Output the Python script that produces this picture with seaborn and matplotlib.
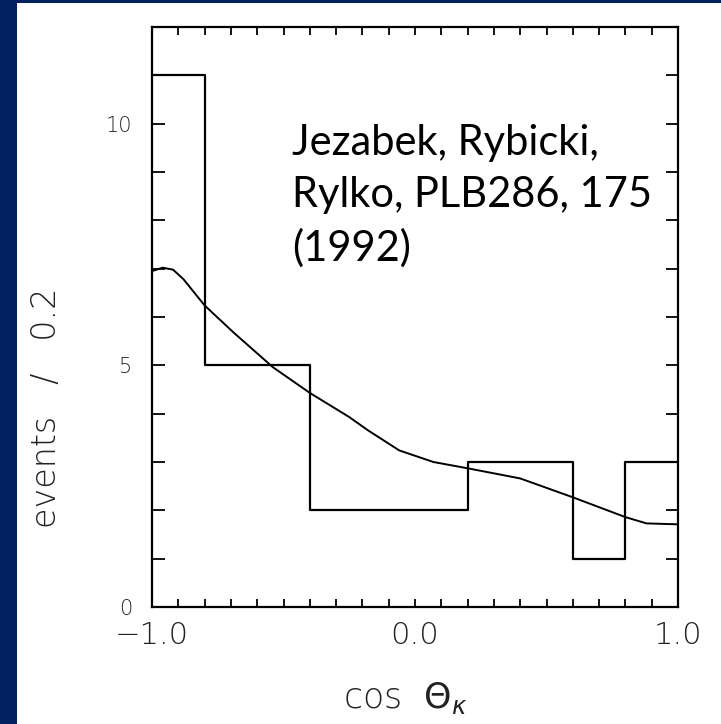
import numpy as np
import pandas as pd
import matplotlib
matplotlib.use("Agg")
import matplotlib.pyplot as plt
import seaborn as sns
from matplotlib.patches import Rectangle
from matplotlib.ticker import MultipleLocator, FixedLocator

# ---- data ----
bin_edges = [-1.0, -0.8, -0.6, -0.4, -0.2, 0.0, 0.2, 0.4, 0.6, 0.8, 1.0]
bin_lefts = [-1.0, -0.8, -0.6, -0.4, -0.2, 0.0, 0.2, 0.4, 0.6, 0.8]
counts = [11, 5, 5, 2, 2, 2, 3, 3, 1, 3]

curve_x = [-1.0, -0.96, -0.92, -0.88, -0.8, -0.69, -0.54, -0.4, -0.25, -0.18,
           -0.06, 0.07, 0.2, 0.4, 0.6, 0.8, 0.88, 1.0]
curve_y = [6.95, 7.02, 6.98, 6.78, 6.24, 5.68, 4.96, 4.43, 3.93, 3.66,
           3.24, 3.0, 2.87, 2.66, 2.27, 1.86, 1.73, 1.71]

x_tick_labels = ["\u22121.0", "0.0", "1.0"]
y_tick_labels = ["0", "5", "10"]
annotation = "Jezabek, Rybicki,\nRylko, PLB286, 175\n(1992)"

sns.set_theme(style="white")
plt.rcParams["font.family"] = ["DejaVu Sans"]

W, H = 721, 724
fig = plt.figure(figsize=(W / 100, H / 100), dpi=100)
fig.patch.set_facecolor("white")

# dark blue slide frame
blue = "#002060"
fig.patches.append(Rectangle((0, 0), 17 / W, 1, transform=fig.transFigure,
                             facecolor=blue, edgecolor="none", zorder=0))
fig.patches.append(Rectangle((0, 1 - 3 / H), 1, 3 / H, transform=fig.transFigure,
                             facecolor=blue, edgecolor="none", zorder=0))

ax = fig.add_axes([152 / W, 1 - 607 / H, (678 - 152) / W, (607 - 27) / H])

df_hist = pd.DataFrame({"x": bin_lefts, "w": counts})
sns.histplot(data=df_hist, x="x", weights="w", bins=bin_edges, element="step",
             fill=False, color="black", linewidth=1.6, ax=ax)

df_curve = pd.DataFrame({"x": curve_x, "y": curve_y})
sns.lineplot(data=df_curve, x="x", y="y", color="black", linewidth=1.4, ax=ax)

ax.set_xlim(-1.0, 1.0)
ax.set_ylim(0, 12)

ax.xaxis.set_major_locator(FixedLocator([-1.0, 0.0, 1.0]))
ax.set_xticklabels(x_tick_labels)
ax.xaxis.set_minor_locator(MultipleLocator(0.1))
ax.yaxis.set_major_locator(FixedLocator([0, 5, 10]))
ax.set_yticklabels(y_tick_labels)
ax.yaxis.set_minor_locator(MultipleLocator(1))

ax.tick_params(axis="x", which="both", direction="in", top=True, bottom=True,
               length=6, width=1.3, color="black")
ax.tick_params(axis="x", which="major", labelsize=22, pad=10,
               labelcolor="#222222")
ax.tick_params(axis="y", which="both", direction="in", left=True, right=True,
               length=9, width=1.3, color="black")
ax.tick_params(axis="y", which="major", labelsize=15, pad=14,
               labelcolor="#222222")
for lab in ax.get_xticklabels() + ax.get_yticklabels():
    lab.set_fontweight("light")

for s in ax.spines.values():
    s.set_visible(True)
    s.set_color("black")
    s.set_linewidth(1.6)

ax.set_xlabel(r"cos  $\Theta_{\kappa}$", fontsize=25, color="#222222",
              fontweight="light")
ax.xaxis.set_label_coords((405 - 152) / (678 - 152), -(698 - 607) / (607 - 27))
ax.set_ylabel("events   /   0.2", fontsize=24, color="#222222", fontweight="light")
ax.yaxis.set_label_coords(-(152 - 47) / (678 - 152), (607 - 408) / (607 - 27))
ax.yaxis.label.set_va("center")
ax.xaxis.label.set_va("center")

ax.text(-0.468, 10.0, annotation, fontsize=30, family=["Lato", "DejaVu Sans"],
        color="black", va="top", ha="left", linespacing=1.45)

ax.grid(False)
fig.savefig("out.png", dpi=100, facecolor="white")
